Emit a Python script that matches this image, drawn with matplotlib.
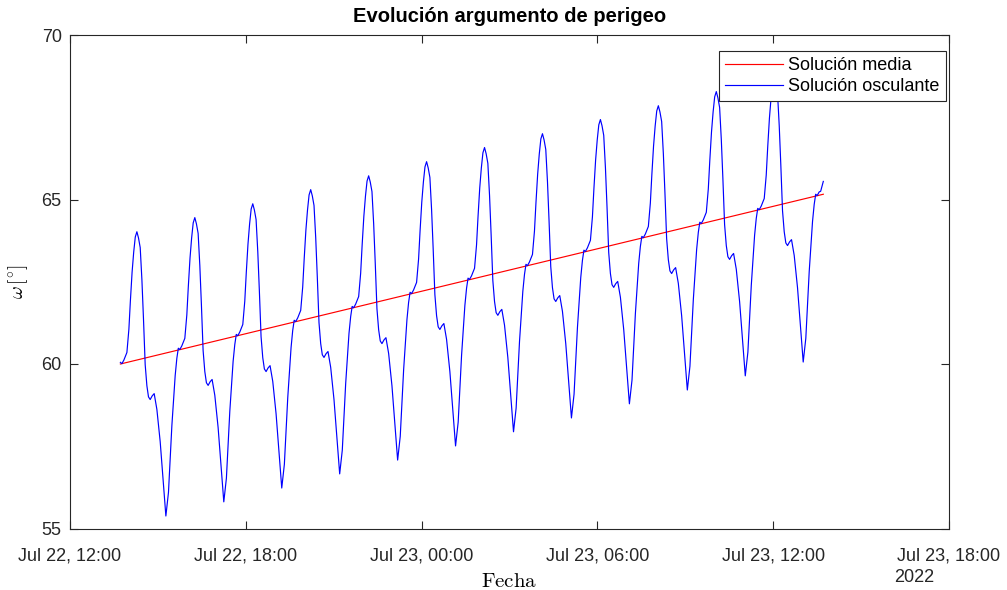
"""
Evolucion del argumento de perigeo: solucion media vs osculante
"""
import matplotlib
matplotlib.use("Agg")
import matplotlib.pyplot as plt
import matplotlib.dates as mdates
import pandas as pd
import numpy as np

plt.rcParams['font.family'] = ['Liberation Sans', 'DejaVu Sans']
plt.rcParams['mathtext.fontset'] = 'cm'

t_ref = pd.Timestamp('2022-07-22 12:00')

# horas desde Jul 22 12:00
t_osc = [
    1.720, 1.771, 1.839, 1.942, 2.010, 2.061, 2.119, 2.174, 2.228, 2.283, 2.338, 2.396, 2.454, 2.508,
    2.566, 2.624, 2.679, 2.737, 2.805, 2.873, 2.965, 3.078, 3.191, 3.272, 3.361, 3.477, 3.590,
    3.646, 3.697, 3.748, 3.816, 3.919, 3.987, 4.038, 4.096, 4.151, 4.205, 4.260, 4.315, 4.373, 4.431,
    4.485, 4.543, 4.601, 4.656, 4.714, 4.782, 4.850, 4.942, 5.055, 5.168, 5.249, 5.338, 5.454, 5.567,
    5.624, 5.675, 5.726, 5.794, 5.897, 5.965, 6.016, 6.074, 6.129, 6.183, 6.238, 6.293, 6.351, 6.409,
    6.463, 6.521, 6.579, 6.634, 6.692, 6.760, 6.828, 6.920, 7.033, 7.146, 7.227, 7.316, 7.432, 7.545,
    7.601, 7.652, 7.703, 7.771, 7.874, 7.942, 7.993, 8.051, 8.106, 8.160, 8.215, 8.270, 8.328, 8.386,
    8.440, 8.498, 8.556, 8.611, 8.669, 8.737, 8.805, 8.897, 9.010, 9.123, 9.204, 9.293, 9.409, 9.522,
    9.579, 9.630, 9.681, 9.749, 9.852, 9.920, 9.971, 10.029, 10.084, 10.138, 10.193, 10.248, 10.306, 10.364,
    10.418, 10.476, 10.534, 10.589, 10.647, 10.715, 10.783, 10.875, 10.988, 11.101, 11.182, 11.271, 11.387, 11.500,
    11.556, 11.607, 11.658, 11.726, 11.829, 11.897, 11.948, 12.006, 12.061, 12.115, 12.170, 12.225, 12.283, 12.341,
    12.395, 12.453, 12.511, 12.566, 12.624, 12.692, 12.760, 12.852, 12.965, 13.078, 13.159, 13.248, 13.364, 13.477,
    13.534, 13.585, 13.636, 13.704, 13.807, 13.875, 13.926, 13.984, 14.039, 14.093, 14.148, 14.203, 14.261, 14.319,
    14.373, 14.431, 14.489, 14.544, 14.602, 14.670, 14.738, 14.830, 14.943, 15.056, 15.137, 15.226, 15.342, 15.455,
    15.511, 15.562, 15.613, 15.681, 15.784, 15.852, 15.903, 15.961, 16.016, 16.070, 16.125, 16.180, 16.238, 16.296,
    16.350, 16.408, 16.466, 16.521, 16.579, 16.647, 16.715, 16.807, 16.920, 17.033, 17.114, 17.203, 17.319, 17.432,
    17.489, 17.540, 17.591, 17.659, 17.762, 17.830, 17.881, 17.939, 17.994, 18.048, 18.103, 18.158, 18.216, 18.274,
    18.328, 18.386, 18.444, 18.499, 18.557, 18.625, 18.693, 18.785, 18.898, 19.011, 19.092, 19.181, 19.297, 19.410,
    19.466, 19.517, 19.568, 19.636, 19.739, 19.807, 19.858, 19.916, 19.971, 20.025, 20.080, 20.135, 20.193, 20.251,
    20.305, 20.363, 20.421, 20.476, 20.534, 20.602, 20.670, 20.762, 20.875, 20.988, 21.069, 21.158, 21.274, 21.387,
    21.444, 21.495, 21.546, 21.614, 21.717, 21.785, 21.836, 21.894, 21.949, 22.003, 22.058, 22.113, 22.171, 22.229,
    22.283, 22.341, 22.399, 22.454, 22.512, 22.580, 22.648, 22.740, 22.853, 22.966, 23.047, 23.136, 23.252, 23.365,
    23.421, 23.472, 23.523, 23.591, 23.694, 23.762, 23.813, 23.871, 23.926, 23.980, 24.035, 24.090, 24.148, 24.206,
    24.260, 24.318, 24.376, 24.431, 24.489, 24.557, 24.625, 24.717, 24.830, 24.943, 25.024, 25.113, 25.229, 25.342,
    25.399, 25.450, 25.501, 25.569, 25.620, 25.710,
]

# omega osculante [deg]
w_osc = [
    60.05, 60.01, 60.12, 60.35, 61.06, 61.92, 62.79, 63.40, 63.86, 64.02, 63.83, 63.54, 62.56, 61.37,
    59.98, 59.34, 59.00, 58.92, 59.03, 59.10, 58.62, 57.64, 56.31, 55.38, 56.10, 58.13, 59.65,
    60.17, 60.48, 60.44, 60.55, 60.78, 61.49, 62.35, 63.22, 63.83, 64.29, 64.45, 64.26, 63.97, 62.99,
    61.80, 60.41, 59.77, 59.43, 59.35, 59.46, 59.53, 59.05, 58.07, 56.74, 55.81, 56.53, 58.56, 60.08,
    60.59, 60.90, 60.86, 60.97, 61.20, 61.91, 62.77, 63.64, 64.25, 64.71, 64.87, 64.68, 64.39, 63.41,
    62.22, 60.83, 60.19, 59.85, 59.77, 59.88, 59.95, 59.47, 58.49, 57.16, 56.23, 56.95, 58.98, 60.50,
    61.02, 61.33, 61.29, 61.40, 61.63, 62.34, 63.20, 64.07, 64.68, 65.14, 65.30, 65.11, 64.82, 63.84,
    62.65, 61.26, 60.62, 60.28, 60.20, 60.31, 60.38, 59.90, 58.92, 57.59, 56.66, 57.38, 59.41, 60.93,
    61.44, 61.75, 61.71, 61.82, 62.05, 62.76, 63.62, 64.49, 65.10, 65.56, 65.72, 65.53, 65.24, 64.26,
    63.07, 61.68, 61.04, 60.70, 60.62, 60.73, 60.80, 60.32, 59.34, 58.01, 57.08, 57.80, 59.83, 61.35,
    61.87, 62.18, 62.14, 62.25, 62.48, 63.19, 64.05, 64.92, 65.53, 65.99, 66.15, 65.96, 65.67, 64.69,
    63.50, 62.11, 61.47, 61.13, 61.05, 61.16, 61.23, 60.75, 59.77, 58.44, 57.51, 58.23, 60.26, 61.78,
    62.30, 62.61, 62.57, 62.68, 62.91, 63.62, 64.48, 65.35, 65.96, 66.42, 66.58, 66.39, 66.10, 65.12,
    63.93, 62.54, 61.90, 61.56, 61.48, 61.59, 61.66, 61.18, 60.20, 58.87, 57.94, 58.66, 60.69, 62.21,
    62.72, 63.03, 62.99, 63.10, 63.33, 64.04, 64.90, 65.77, 66.38, 66.84, 67.00, 66.81, 66.52, 65.54,
    64.35, 62.96, 62.32, 61.98, 61.90, 62.01, 62.08, 61.60, 60.62, 59.29, 58.36, 59.08, 61.11, 62.63,
    63.15, 63.46, 63.42, 63.53, 63.76, 64.47, 65.33, 66.20, 66.81, 67.27, 67.43, 67.24, 66.95, 65.97,
    64.78, 63.39, 62.75, 62.41, 62.33, 62.44, 62.51, 62.03, 61.05, 59.72, 58.79, 59.51, 61.54, 63.06,
    63.57, 63.88, 63.84, 63.95, 64.18, 64.89, 65.75, 66.62, 67.23, 67.69, 67.85, 67.66, 67.37, 66.39,
    65.20, 63.81, 63.17, 62.83, 62.75, 62.86, 62.93, 62.45, 61.47, 60.14, 59.21, 59.93, 61.96, 63.48,
    64.00, 64.31, 64.27, 64.38, 64.61, 65.32, 66.18, 67.05, 67.66, 68.12, 68.28, 68.09, 67.80, 66.82,
    65.63, 64.24, 63.60, 63.26, 63.18, 63.29, 63.36, 62.88, 61.90, 60.57, 59.64, 60.36, 62.39, 63.91,
    64.42, 64.73, 64.69, 64.80, 65.03, 65.74, 66.60, 67.47, 68.08, 68.54, 68.70, 68.51, 68.22, 67.24,
    66.05, 64.66, 64.02, 63.68, 63.60, 63.71, 63.78, 63.30, 62.32, 60.99, 60.06, 60.78, 62.81, 64.33,
    64.85, 65.16, 65.12, 65.23, 65.25, 65.55,
]

# solucion media (recta)
t_med = [1.720, 25.710]
w_med = [60.00, 65.16]

x_ticks_h = [0, 6, 12, 18, 24, 30]
y_ticks = [55, 60, 65, 70]


def to_dates(hours):
    return t_ref + pd.to_timedelta(np.array(hours), unit='h')


fig = plt.figure(figsize=(10.07, 5.90), dpi=100)
ax = fig.add_axes([70 / 1007, 1 - 528.5 / 590, 879 / 1007, 493.5 / 590])

ax.plot(to_dates(t_med), w_med, color='red', lw=0.85, label='Solución media')
ax.plot(to_dates(t_osc), w_osc, color='blue', lw=0.85, label='Solución osculante')

ax.set_xlim(to_dates([0, 30]))
ax.set_ylim(55, 70)
ax.set_xticks(to_dates(x_ticks_h))
ax.xaxis.set_major_formatter(mdates.DateFormatter('%b %d, %H:%M'))
ax.set_yticks(y_ticks)

for s in ax.spines.values():
    s.set_color('#262626')
    s.set_linewidth(0.8)
ax.tick_params(direction='in', length=6, width=0.8, color='#262626',
               top=True, right=True, labelsize=13, labelcolor='#262626')
ax.tick_params(axis='x', pad=14)
ax.tick_params(axis='y', pad=6)

ax.set_title('Evolución argumento de perigeo', fontsize=14.5, fontweight='bold', pad=9)
ax.set_xlabel(r'$\mathrm{Fecha}$', fontsize=15, labelpad=5)
ax.set_ylabel(r'$\omega\,[^{\circ}]$', fontsize=14, labelpad=8)
fig.text(894 / 1007, 1 - 578 / 590, '2022', fontsize=13, color='#262626', va='center', ha='left')

leg = ax.legend(loc='upper right', bbox_to_anchor=(0.9966, 0.9676), borderaxespad=0,
                fontsize=13, handlelength=3.2, handletextpad=0.3, labelspacing=0.2,
                borderpad=0.35, fancybox=False, framealpha=1)
leg.get_frame().set_edgecolor('#262626')
leg.get_frame().set_linewidth(0.8)

fig.savefig('out.png', dpi=100)
